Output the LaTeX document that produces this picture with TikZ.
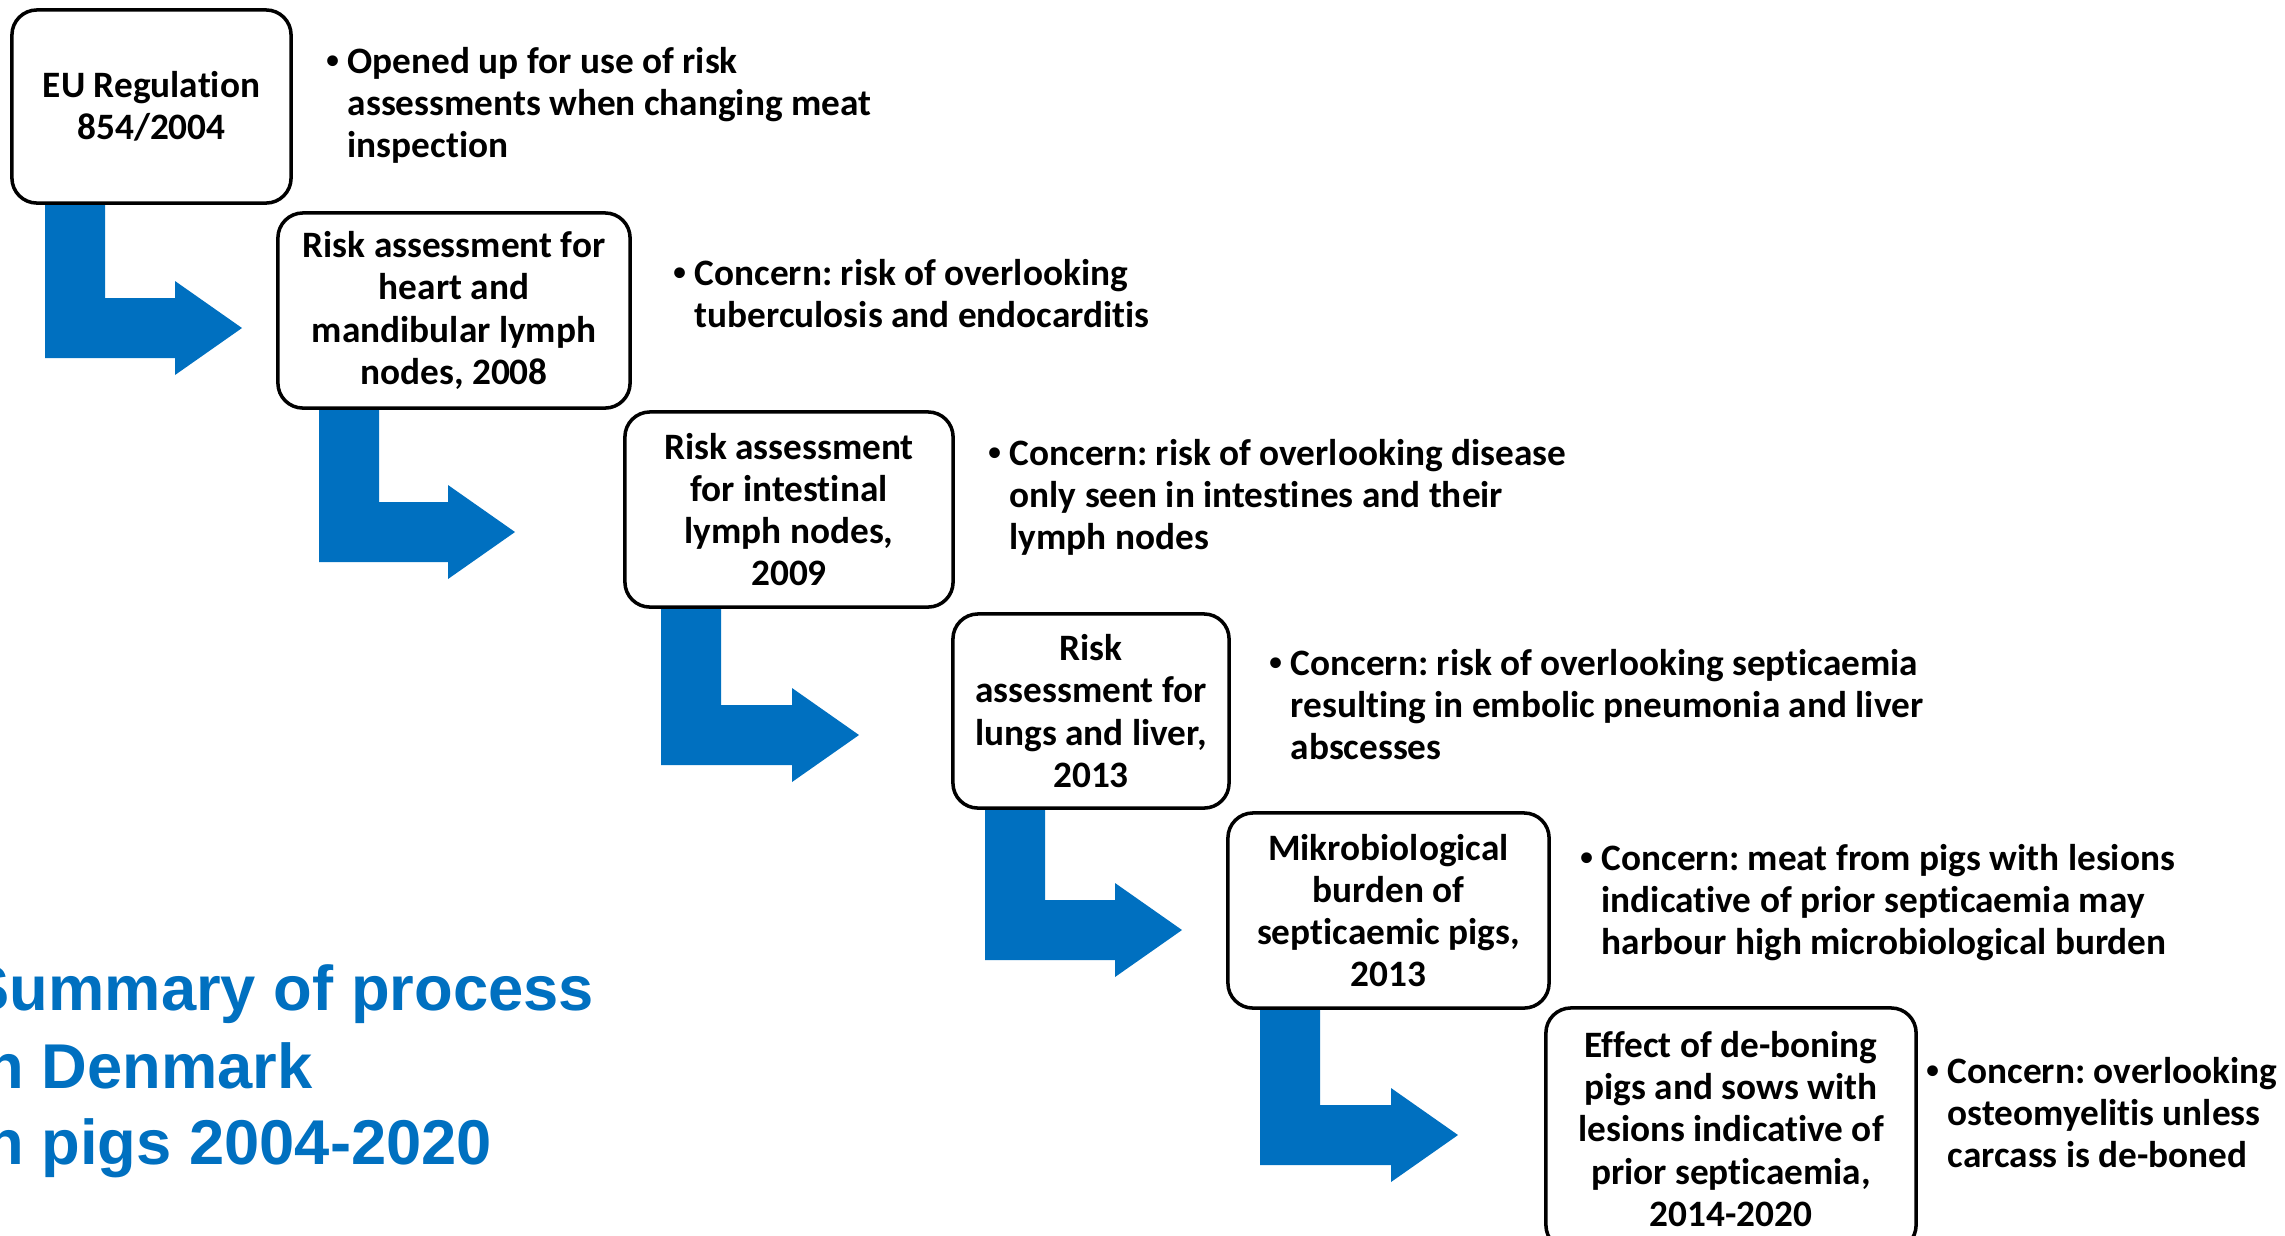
\documentclass[tikz,border=0pt]{standalone}
\usepackage{fontspec}
\setmainfont{Carlito}[Ligatures=NoCommon]
\newfontfamily\titlefont{Liberation Sans}
\usepackage{xcolor}
\usepackage{tikz}
\usetikzlibrary{calc,backgrounds}

\definecolor{flowblue}{HTML}{0070C0}
\newcommand{\concern}[1]{\makebox[0.21cm][l]{\titlefont\textbullet}\begin{tabular}[t]{@{}l@{}}#1\end{tabular}}
\frenchspacing

\tikzset{
  stage/.style={draw=black, line width=1pt, rounded corners=0.25cm, fill=white,
    align=center, inner sep=0pt, font=\fontsize{10.6}{12}\selectfont\bfseries},
  note/.style={anchor=base west, inner sep=0pt, font=\fontsize{10.6}{12}\selectfont\bfseries},
  headline/.style={anchor=base west, inner sep=0pt, text=flowblue,
    font=\titlefont\fontsize{18}{21.8}\selectfont\bfseries}
}

\begin{document}
\begin{tikzpicture}[x=0.01cm, y=-0.01cm]
\useasboundingbox (0,0) rectangle (2285,1235);
\clip (0,0) rectangle (2285,1235);

% stages
\node[stage, minimum width=2.79cm, minimum height=1.93cm] (b1) at (151.5,106.5) {EU Regulation\\854/2004};
\node[stage, minimum width=3.52cm, minimum height=1.95cm] (b2) at (454,310.5) {Risk assessment for\\heart and\\mandibular lymph\\nodes, 2008};
\node[stage, minimum width=3.28cm, minimum height=1.95cm] (b3) at (789,509.5) {Risk assessment\\for intestinal\\lymph nodes,\\2009};
\node[stage, minimum width=2.76cm, minimum height=1.94cm] (b4) at (1091,711) {Risk\\assessment for\\lungs and liver,\\2013};
\node[stage, minimum width=3.21cm, minimum height=1.95cm] (b5) at (1388.5,910.5) {Mikrobiological\\burden of\\septicaemic pigs,\\2013};
\node[stage, minimum width=3.70cm, minimum height=2.42cm] (b6) at (1731,1129) {Effect of de-boning\\pigs and sows with\\lesions indicative of\\prior septicaemia,\\2014-2020};

% concerns
\node[note] (c1) at (326,73) {\concern{Opened up for use of risk\\assessments when changing meat\\inspection}};
\node[note] (c2) at (673,285) {\concern{Concern: risk of overlooking\\tuberculosis and endocarditis}};
\node[note] (c3) at (988,465) {\concern{Concern: risk of overlooking disease\\only seen in intestines and their\\lymph nodes}};
\node[note] (c4) at (1269,675) {\concern{Concern: risk of overlooking septicaemia\\resulting in embolic pneumonia and liver\\abscesses}};
\node[note] (c5) at (1580,870) {\concern{Concern: meat from pigs with lesions\\indicative of prior septicaemia may\\harbour high microbiological burden}};
\node[note] (c6) at (1926,1083) {\concern{Concern: overlooking\\osteomyelitis unless\\carcass is de-boned}};

% bent arrows
\coordinate (tip1) at (242,328);
\coordinate (tip2) at (515,532);
\coordinate (tip3) at (859,735);
\coordinate (tip4) at (1182,930);
\coordinate (tip5) at (1458,1135);
\begin{scope}[on background layer]
\fill[white] (0,0) rectangle (2285,1235);
\foreach \from/\dx/\tip in {b1/35/tip1, b2/43/tip2, b3/38/tip3, b4/34/tip4, b5/34/tip5} {
  \fill[flowblue] ($(\from.south west)+(\dx,0)$) -- ++(60,0) |- ($(\tip)+(-67,-30)$)
    -- ++(0,-17) -- (\tip) -- ++(-67,47) -- ++(0,-17) -| ($(\from.south west)+(\dx,0)$) -- cycle;
}
\end{scope}

% title
\node[headline] (title1) at (-33,1010) {Summary of process};
\node[headline] (title2) at (-33,1088) {in Denmark};
\node[headline] (title3) at (-33,1164) {in pigs 2004-2020};
\end{tikzpicture}
\end{document}
